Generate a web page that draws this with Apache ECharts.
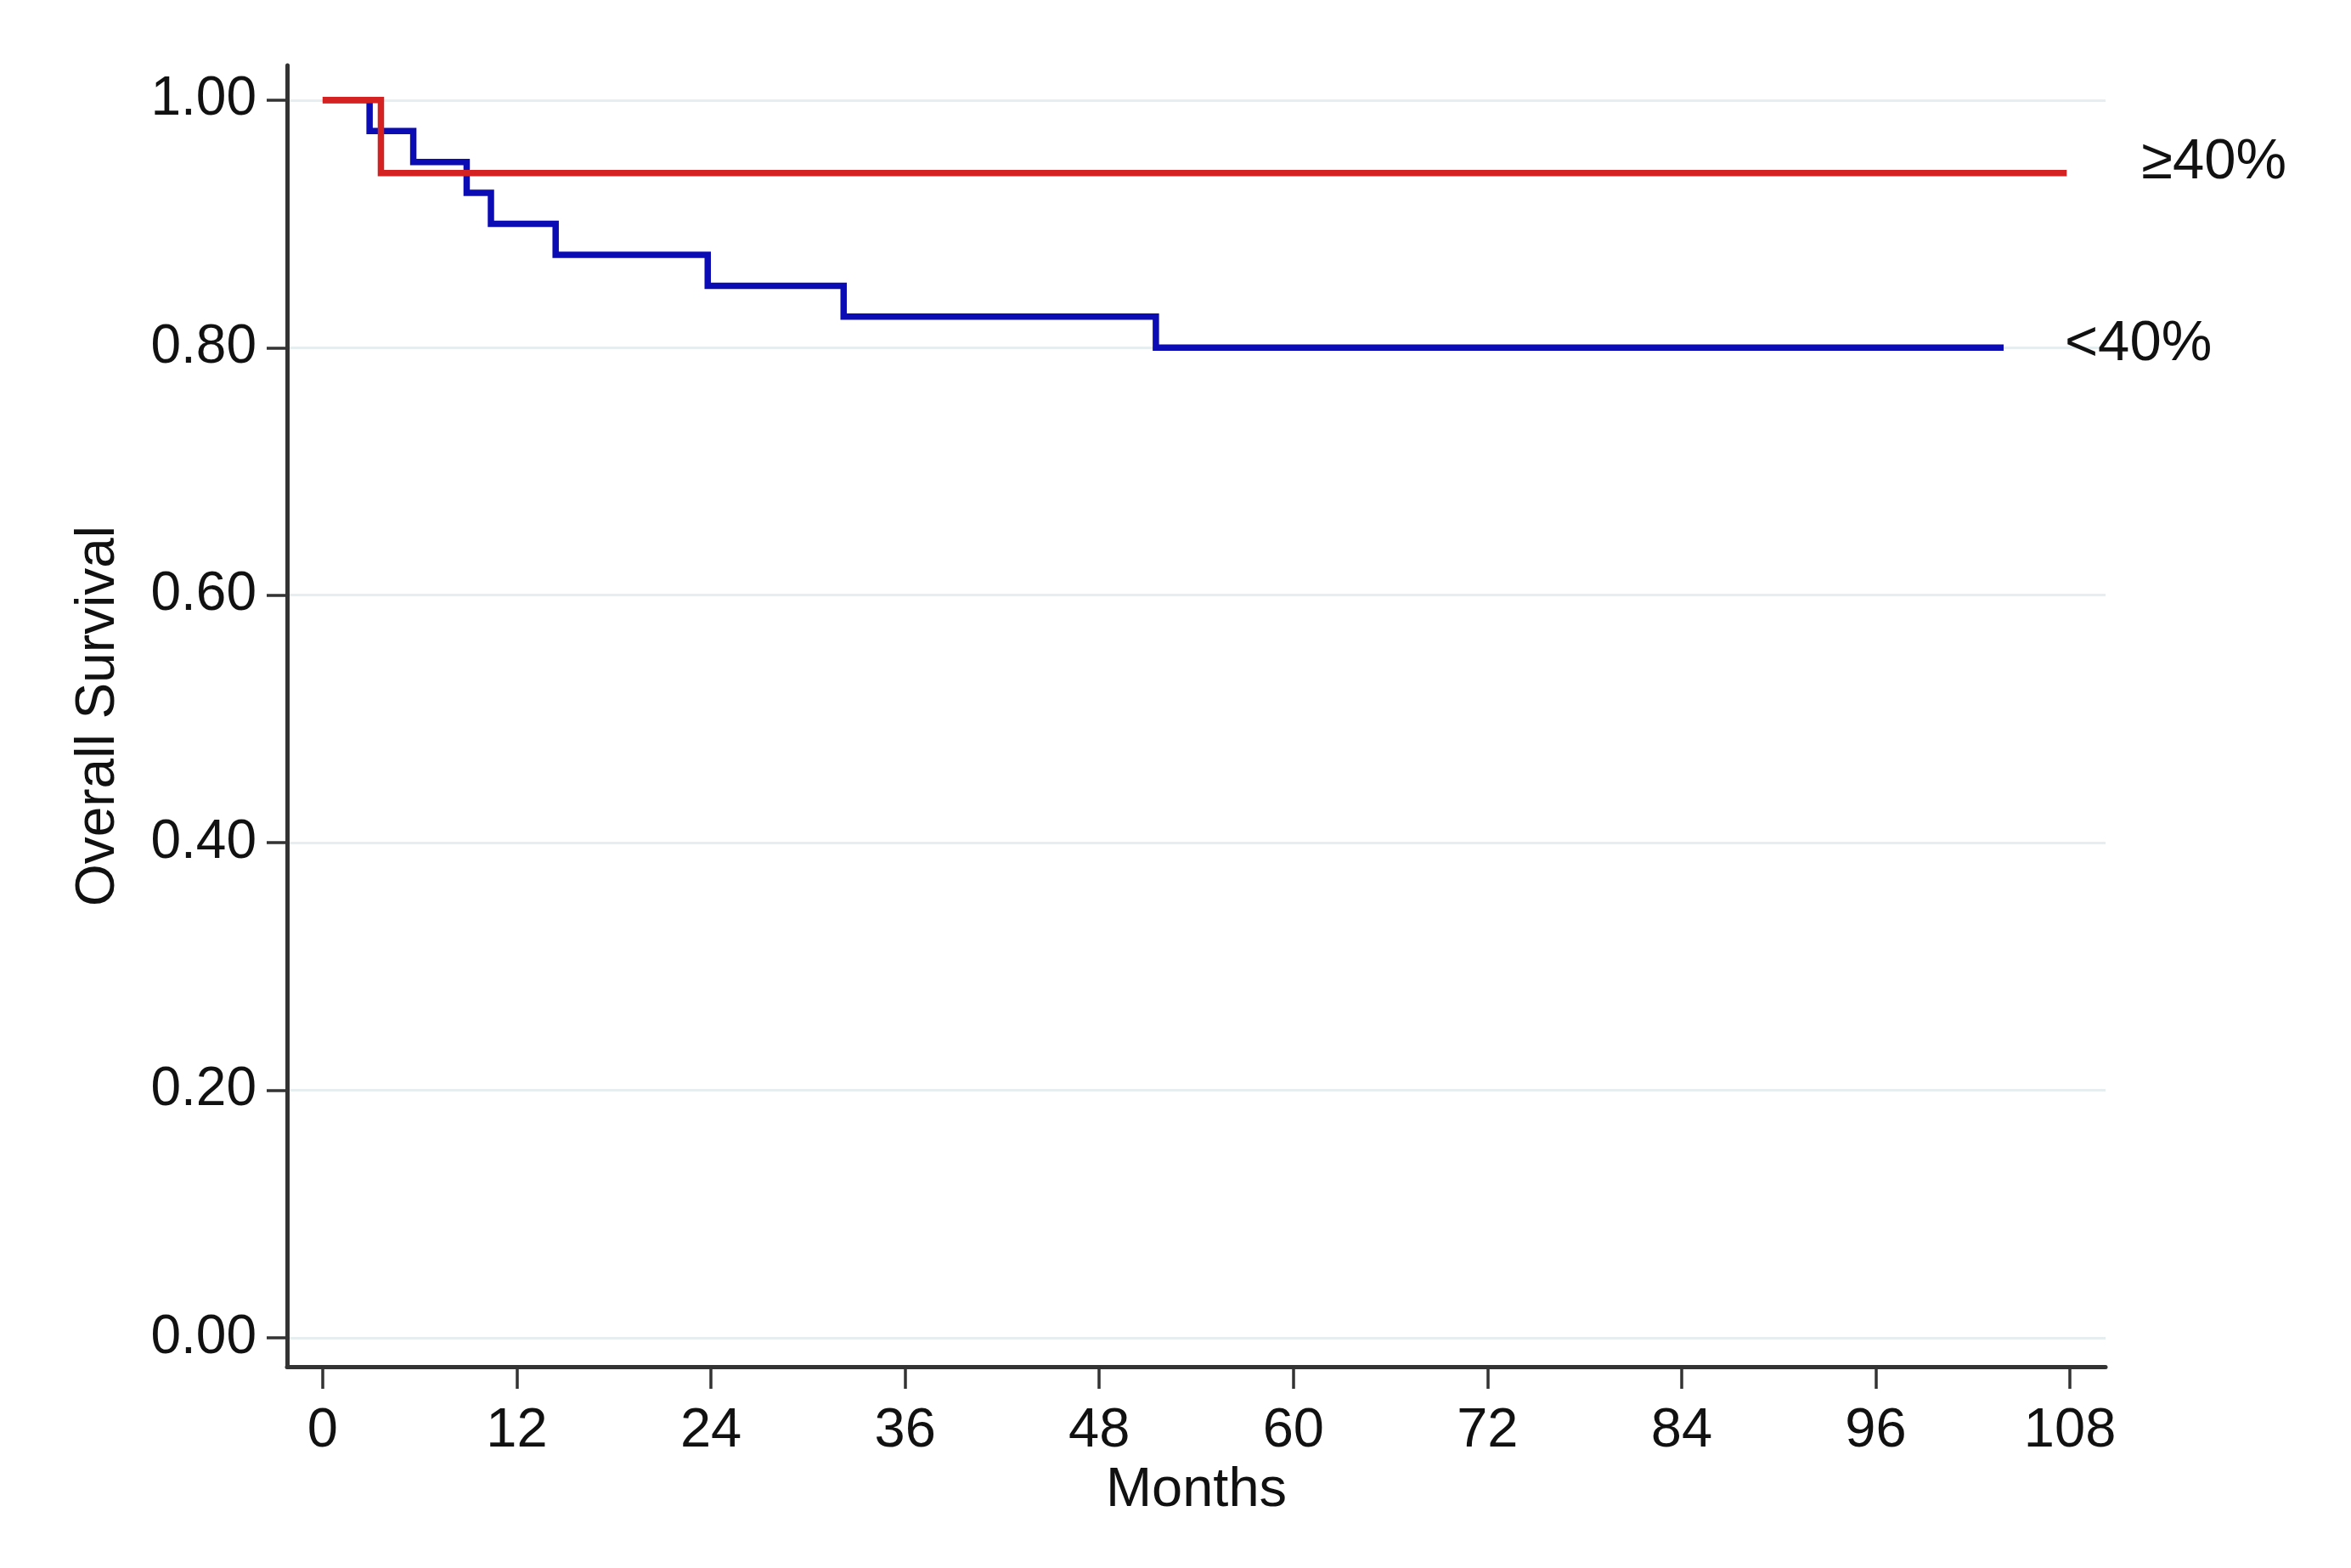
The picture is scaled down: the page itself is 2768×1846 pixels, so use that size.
<!DOCTYPE html>
<html>
<head>
<meta charset="utf-8">
<script src="https://cdn.jsdelivr.net/npm/echarts@6/dist/echarts.min.js"></script>
<style>
html,body{margin:0;padding:0;background:#fff;}
#chart{width:2768px;height:1846px;}
</style>
</head>
<body>
<div id="chart"></div>
<script>
// Kaplan-Meier steps
const lowTimes  = [0, 2.9, 5.6, 8.9, 10.4, 14.4, 23.8, 32.2, 51.5, 103.9];
const lowSurv   = [1.0, 0.975, 0.95, 0.925, 0.90, 0.875, 0.85, 0.825, 0.80, 0.80];
const highTimes = [0, 3.6, 107.8];
const highSurv  = [1.0, 0.941, 0.941];
const xTicks = [0, 12, 24, 36, 48, 60, 72, 84, 96, 108];
const yTicks = [0, 0.2, 0.4, 0.6, 0.8, 1.0];
const lowName = '<40%';
const highName = '\u226540%';

const FONT = 'Liberation Sans, Arial, sans-serif';
const chart = echarts.init(document.getElementById('chart'), null, {renderer: 'canvas'});

const toPairs = (xs, ys) => xs.map((x, i) => [x, ys[i]]);

chart.setOption({
  animation: false,
  backgroundColor: '#ffffff',
  grid: {left: 338, right: 289, top: 77, bottom: 237, containLabel: false},
  xAxis: {
    type: 'value',
    min: -2.2, max: 110.2,
    name: 'Months',
    nameLocation: 'middle',
    nameGap: 113,
    nameTextStyle: {fontFamily: FONT, fontSize: 65, color: '#111'},
    axisLine: {show: true, onZero: false, lineStyle: {color: '#333', width: 5}},
    axisTick: {show: true, customValues: xTicks, length: 26, lineStyle: {color: '#333', width: 3.5}},
    axisLabel: {customValues: xTicks, margin: 44, fontFamily: FONT, fontSize: 65, color: '#111'},
    splitLine: {show: false}
  },
  yAxis: {
    type: 'value',
    min: -0.0233, max: 1.028,
    name: 'Overall Survival',
    nameLocation: 'middle',
    nameGap: 190,
    nameTextStyle: {fontFamily: FONT, fontSize: 64, color: '#111'},
    axisLine: {show: true, onZero: false, lineStyle: {color: '#333', width: 5}},
    axisTick: {show: true, customValues: yTicks, length: 24, lineStyle: {color: '#333', width: 3.5}},
    axisLabel: {customValues: yTicks, margin: 36, fontFamily: FONT, fontSize: 64, color: '#111',
      formatter: v => v.toFixed(2)},
    splitLine: {show: true, lineStyle: {color: '#e6eef0', width: 3}}
  },
  series: [
    {
      name: lowName,
      type: 'line',
      step: 'end',
      showSymbol: false,
      data: toPairs(lowTimes, lowSurv),
      lineStyle: {color: '#0c0cb4', width: 7.5, cap: 'butt', join: 'miter'},
      itemStyle: {color: '#0c0cb4'},
      endLabel: {show: true, formatter: lowName, distance: 72, offset: [0, -4],
        fontFamily: FONT, fontSize: 67, color: '#111'},
      z: 2
    },
    {
      name: highName,
      type: 'line',
      step: 'end',
      showSymbol: false,
      data: toPairs(highTimes, highSurv),
      lineStyle: {color: '#d42222', width: 7.5, cap: 'butt', join: 'miter'},
      itemStyle: {color: '#d42222'},
      endLabel: {show: true, formatter: highName, distance: 88, offset: [0, -12],
        fontFamily: FONT, fontSize: 67, color: '#111'},
      z: 3
    }
  ]
});
</script>
</body>
</html>
